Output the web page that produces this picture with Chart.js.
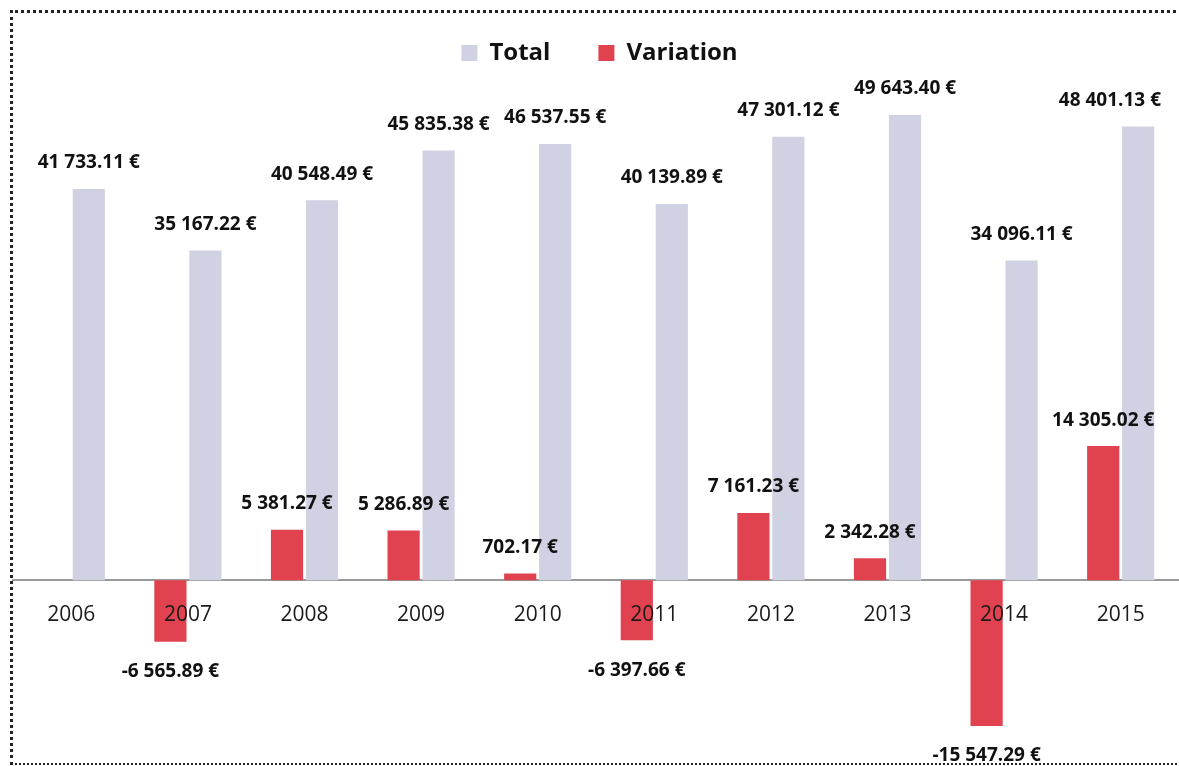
<!DOCTYPE html>
<html>
<head>
<meta charset="utf-8">
<script src="https://cdn.jsdelivr.net/npm/chart.js@4/dist/chart.umd.min.js"></script>
<style>
  html, body { margin: 0; padding: 0; background: #fff; }
  #wrap { position: relative; width: 1179px; height: 766px; overflow: hidden; }
  #frame { position: absolute; left: 10px; top: 10px; width: 1180px; height: 750px;
           border-top: 3px dotted #222; border-left: 3px dotted #222; border-bottom: 2px dotted #222; }
</style>
</head>
<body>
<div id="wrap">
  <canvas id="chart" width="1179" height="766"></canvas>
  <div id="frame"></div>
</div>
<script>
var years = ['2006', '2007', '2008', '2009', '2010', '2011', '2012', '2013', '2014', '2015'];
var totals = [41733.11, 35167.22, 40548.49, 45835.38, 46537.55, 40139.89, 47301.12, 49643.40, 34096.11, 48401.13];
var variations = [null, -6565.89, 5381.27, 5286.89, 702.17, -6397.66, 7161.23, 2342.28, -15547.29, 14305.02];

function euro(v) {
    var s = Math.abs(v).toFixed(2).split('.');
    var ent = s[0].replace(/\B(?=(\d{3})+(?!\d))/g, ' ');
    return (v < 0 ? '-' : '') + ent + '.' + s[1] + ' €';
}

// etiquetas de valor por cima / por baixo das barras
var valueLabels = {
    id: 'valueLabels',
    afterDatasetsDraw: function(chart) {
        var ctx = chart.ctx;
        ctx.save();
        ctx.font = 'bold 19px "Open Sans", sans-serif';
        ctx.fillStyle = '#111';
        ctx.textAlign = 'center';
        ctx.textBaseline = 'middle';
        chart.data.datasets.forEach(function(ds, i) {
            var meta = chart.getDatasetMeta(i);
            meta.data.forEach(function(bar, j) {
                var v = ds.data[j];
                if (v === null) return;
                var txt = euro(v);
                var w = ctx.measureText(txt).width;
                var x = Math.min(bar.x, chart.width - 18 - w / 2);
                var y = v >= 0 ? bar.y - 26 : bar.y + 30;
                ctx.fillText(txt, x, y);
            });
        });
        ctx.restore();
    }
};

var ctx = document.getElementById('chart').getContext('2d');
var graph = new Chart(ctx, {
    type: 'bar',
    data: {
        labels: years,
        datasets: [
            {
                label: 'Total',
                data: totals,
                backgroundColor: '#d0d1e2',
                order: 1
            },
            {
                label: 'Variation',
                data: variations,
                backgroundColor: '#e0434f',
                order: 0
            }
        ]
    },
    options: {
        responsive: false,
        animation: false,
        categoryPercentage: 0.6,
        barPercentage: 0.92,
        layout: { padding: { left: 13, right: -7, top: -7, bottom: 4 } },
        scales: {
            x: {
                position: { y: 0 },
                grid: { display: false, drawTicks: false },
                border: { display: true, color: '#9a9a9a', width: 2 },
                ticks: {
                    z: 1,
                    padding: 22,
                    color: '#1a1a1a',
                    font: { family: '"Open Sans", sans-serif', size: 21 }
                }
            },
            y: {
                display: false,
                min: -19400,
                max: 53900
            }
        },
        plugins: {
            legend: {
                position: 'top',
                labels: {
                    boxWidth: 16,
                    boxHeight: 16,
                    padding: 48,
                    color: '#111',
                    font: { family: '"Open Sans", sans-serif', size: 24, weight: 'bold' },
                    sort: function(a, b) { return a.datasetIndex - b.datasetIndex; }
                }
            },
            tooltip: { enabled: false }
        }
    },
    plugins: [valueLabels]
});
</script>
</body>
</html>
